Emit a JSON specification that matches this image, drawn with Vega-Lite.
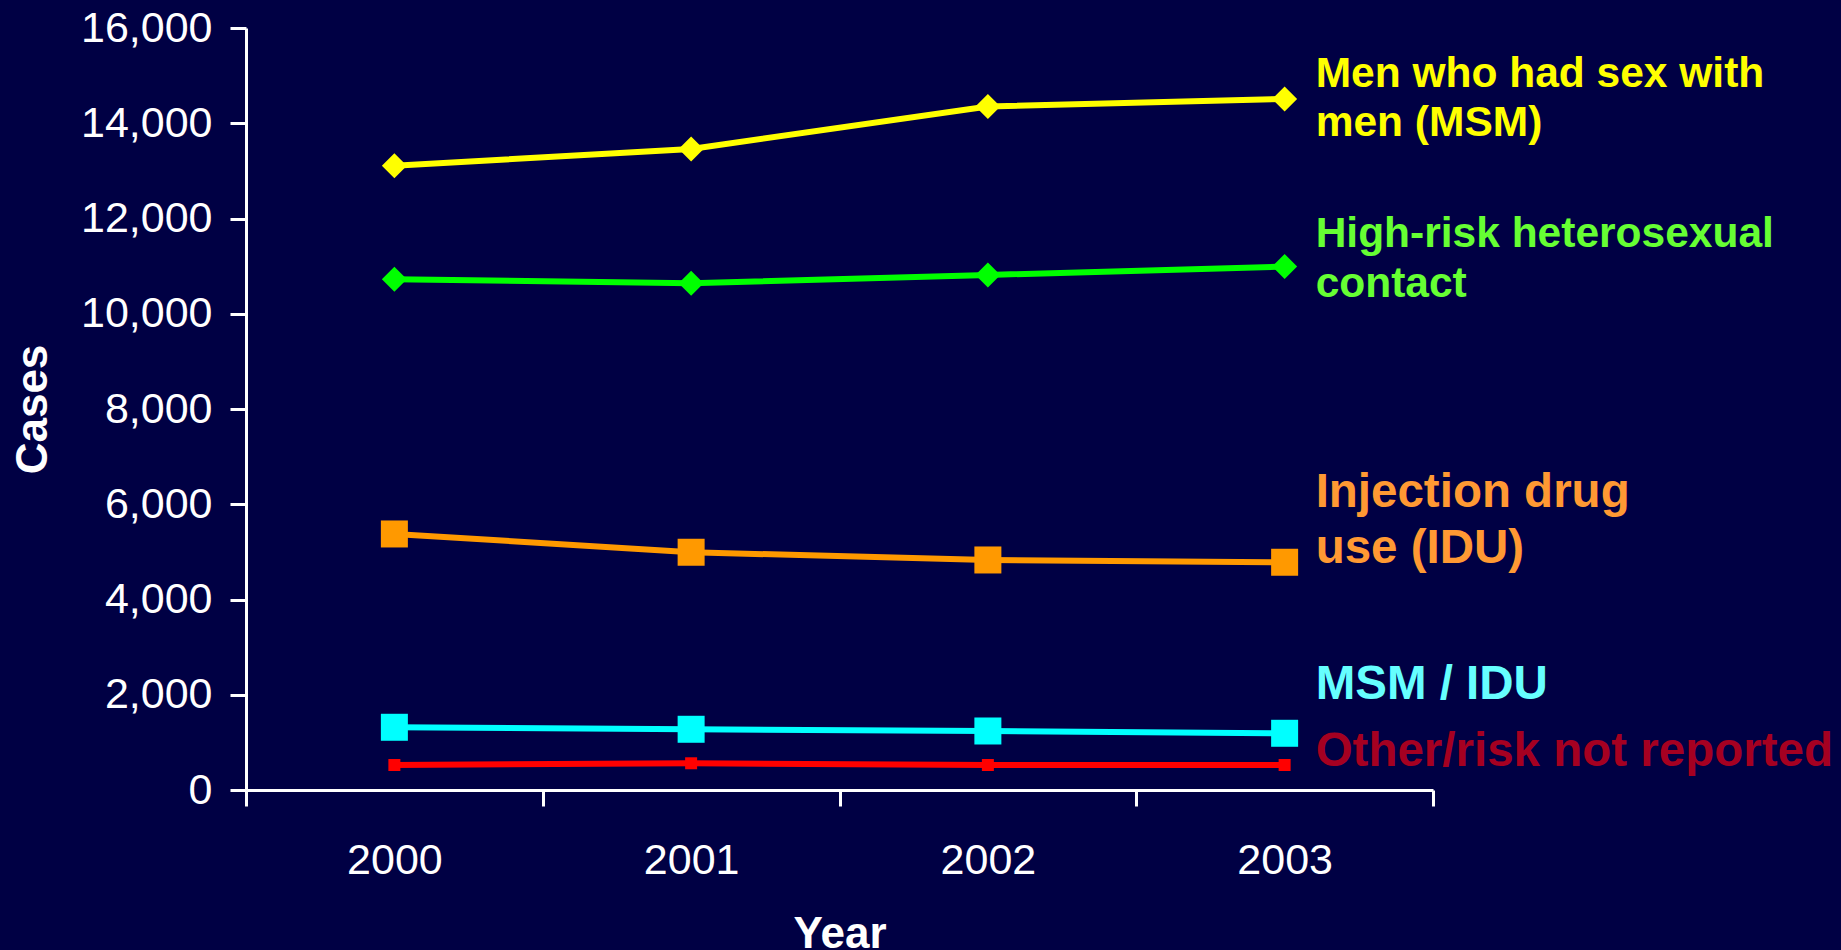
{
  "$schema": "https://vega.github.io/schema/vega-lite/v6.json",
  "width": 1187,
  "height": 762,
  "autosize": {"type": "none"},
  "padding": {"left": 246, "top": 28, "right": 408, "bottom": 160},
  "background": "#000044",
  "config": {
    "view": {"stroke": null},
    "font": "Liberation Sans",
    "axis": {
      "domainColor": "#FFFFFF",
      "domainWidth": 3,
      "tickColor": "#FFFFFF",
      "tickWidth": 3,
      "tickSize": 16,
      "labelColor": "#FFFFFF",
      "labelFont": "Liberation Sans",
      "labelFontSize": 43,
      "titleColor": "#FFFFFF",
      "titleFont": "Liberation Sans",
      "titleFontSize": 44,
      "titleFontWeight": "bold",
      "grid": false
    }
  },
  "datasets": {
    "cases": [
      {"series": "MSM", "year": 2000, "cases": 13110},
      {"series": "MSM", "year": 2001, "cases": 13460},
      {"series": "MSM", "year": 2002, "cases": 14350},
      {"series": "MSM", "year": 2003, "cases": 14510},
      {"series": "Hetero", "year": 2000, "cases": 10725},
      {"series": "Hetero", "year": 2001, "cases": 10640},
      {"series": "Hetero", "year": 2002, "cases": 10815},
      {"series": "Hetero", "year": 2003, "cases": 10990},
      {"series": "IDU", "year": 2000, "cases": 5376},
      {"series": "IDU", "year": 2001, "cases": 4992},
      {"series": "IDU", "year": 2002, "cases": 4830},
      {"series": "IDU", "year": 2003, "cases": 4782},
      {"series": "MSM/IDU", "year": 2000, "cases": 1317},
      {"series": "MSM/IDU", "year": 2001, "cases": 1275},
      {"series": "MSM/IDU", "year": 2002, "cases": 1239},
      {"series": "MSM/IDU", "year": 2003, "cases": 1191},
      {"series": "Other", "year": 2000, "cases": 525},
      {"series": "Other", "year": 2001, "cases": 561},
      {"series": "Other", "year": 2002, "cases": 525},
      {"series": "Other", "year": 2003, "cases": 525}
    ],
    "labels": [
      {"series": "MSM", "line": "Men who had sex with", "at": 14760},
      {"series": "MSM", "line": "men (MSM)", "at": 13723},
      {"series": "Hetero", "line": "High-risk heterosexual", "at": 11412},
      {"series": "Hetero", "line": "contact", "at": 10362},
      {"series": "IDU", "line": "Injection drug", "at": 5944},
      {"series": "IDU", "line": "use (IDU)", "at": 4768},
      {"series": "MSM/IDU", "line": "MSM / IDU", "at": 1905},
      {"series": "Other", "line": "Other/risk not reported", "at": 504}
    ]
  },
  "encoding": {
    "x": {
      "field": "year",
      "type": "ordinal",
      "scale": {"type": "band", "paddingInner": 0, "paddingOuter": 0},
      "axis": {
        "title": "Year",
        "labelAngle": 0,
        "tickBand": "extent",
        "labelPadding": 33,
        "titlePadding": 30
      }
    },
    "y": {
      "field": "cases",
      "type": "quantitative",
      "scale": {"domain": [0, 16000], "nice": false},
      "axis": {
        "title": "Cases",
        "values": [0, 2000, 4000, 6000, 8000, 10000, 12000, 14000, 16000],
        "format": ",d",
        "labelPadding": 18,
        "titlePadding": 25
      }
    }
  },
  "layer": [
    {
      "data": {"name": "cases"},
      "mark": {"type": "line", "strokeWidth": 6},
      "encoding": {
        "color": {
          "field": "series",
          "type": "nominal",
          "scale": {
            "domain": ["MSM", "Hetero", "IDU", "MSM/IDU", "Other"],
            "range": ["#FFFF00", "#00FF00", "#FF9900", "#00FFFF", "#FF0000"]
          },
          "legend": null
        }
      }
    },
    {
      "data": {"name": "cases"},
      "transform": [{"filter": {"field": "series", "oneOf": ["MSM", "Hetero"]}}],
      "mark": {"type": "point", "shape": "diamond", "size": 625, "filled": true, "opacity": 1},
      "encoding": {
        "color": {
          "field": "series",
          "type": "nominal",
          "scale": {
            "domain": ["MSM", "Hetero", "IDU", "MSM/IDU", "Other"],
            "range": ["#FFFF00", "#00FF00", "#FF9900", "#00FFFF", "#FF0000"]
          },
          "legend": null
        }
      }
    },
    {
      "data": {"name": "cases"},
      "transform": [{"filter": {"field": "series", "oneOf": ["IDU", "MSM/IDU"]}}],
      "mark": {"type": "point", "shape": "square", "size": 729, "filled": true, "opacity": 1},
      "encoding": {
        "color": {
          "field": "series",
          "type": "nominal",
          "scale": {
            "domain": ["MSM", "Hetero", "IDU", "MSM/IDU", "Other"],
            "range": ["#FFFF00", "#00FF00", "#FF9900", "#00FFFF", "#FF0000"]
          },
          "legend": null
        }
      }
    },
    {
      "data": {"name": "cases"},
      "transform": [{"filter": {"field": "series", "equal": "Other"}}],
      "mark": {"type": "point", "shape": "square", "size": 144, "filled": true, "opacity": 1},
      "encoding": {
        "color": {
          "field": "series",
          "type": "nominal",
          "scale": {
            "domain": ["MSM", "Hetero", "IDU", "MSM/IDU", "Other"],
            "range": ["#FFFF00", "#00FF00", "#FF9900", "#00FFFF", "#FF0000"]
          },
          "legend": null
        }
      }
    },
    {
      "data": {"name": "labels"},
      "transform": [{"filter": {"field": "series", "oneOf": ["MSM", "Hetero"]}}],
      "mark": {
        "type": "text",
        "align": "left",
        "baseline": "alphabetic",
        "dx": 31,
        "fontSize": 42.5,
        "fontWeight": "bold",
        "font": "Liberation Sans"
      },
      "encoding": {
        "x": {"datum": 2003, "type": "ordinal"},
        "y": {"field": "at", "type": "quantitative"},
        "text": {"field": "line"},
        "color": {
          "field": "series",
          "type": "nominal",
          "scale": {
            "domain": ["MSM", "Hetero", "IDU", "MSM/IDU", "Other"],
            "range": ["#FFFF00", "#66FF33", "#FF9933", "#66FFFF", "#A50021"]
          },
          "legend": null
        }
      }
    },
    {
      "data": {"name": "labels"},
      "transform": [{"filter": {"field": "series", "oneOf": ["IDU", "MSM/IDU", "Other"]}}],
      "mark": {
        "type": "text",
        "align": "left",
        "baseline": "alphabetic",
        "dx": 31,
        "fontSize": 47.5,
        "fontWeight": "bold",
        "font": "Liberation Sans"
      },
      "encoding": {
        "x": {"datum": 2003, "type": "ordinal"},
        "y": {"field": "at", "type": "quantitative"},
        "text": {"field": "line"},
        "color": {
          "field": "series",
          "type": "nominal",
          "scale": {
            "domain": ["MSM", "Hetero", "IDU", "MSM/IDU", "Other"],
            "range": ["#FFFF00", "#66FF33", "#FF9933", "#66FFFF", "#A50021"]
          },
          "legend": null
        }
      }
    }
  ],
  "resolve": {"scale": {"color": "independent"}}
}
